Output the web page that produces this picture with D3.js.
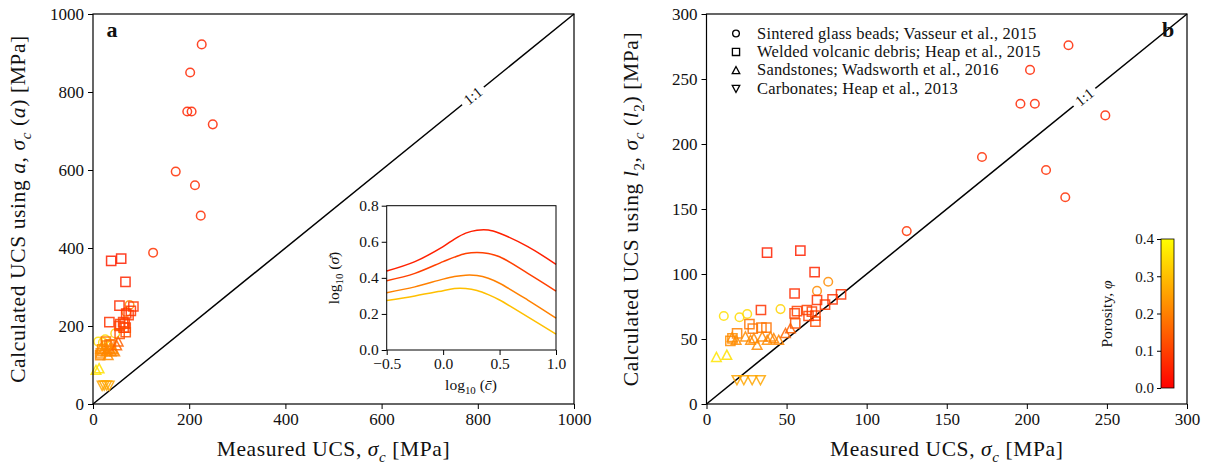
<!DOCTYPE html>
<html><head><meta charset="utf-8">
<script src="https://cdn.jsdelivr.net/npm/d3@7"></script>
<style>body{margin:0;background:#fff} text{font-family:"Liberation Serif","DejaVu Serif",serif;fill:#111}</style>
</head><body><svg id="c" width="1212" height="468"></svg>
<script>
// ---------- data ----------
// Sintered glass beads (circles)
const beadsMeasured = [226, 202, 196, 205, 249, 172, 212, 224, 125, 10.8, 20.6, 25.4, 46.2, 69, 76];
const beadsCalcA    = [922, 850, 750, 750, 717, 596, 561, 483, 388, 160, 158, 166, 181, 236, 254];
const beadsCalcL2   = [276, 257, 231, 231, 222, 190, 180, 159, 133, 67.7, 66.7, 69.2, 73, 87, 94];
const beadsPorosity = [0.06,0.06,0.06,0.06,0.06,0.07,0.07,0.07,0.08,0.35,0.34,0.34,0.33,0.22,0.22];
// Welded volcanic debris (squares)
const debrisMeasured = [37.8, 58.6, 67.5, 55, 34, 84, 78.7, 74, 69, 55, 56.5, 62.7, 65.8, 68, 55.4, 68, 63.7, 26.8, 28.9, 34.3, 37.4, 19.1, 14.9, 16.2];
const debrisCalcA    = [367, 373, 313, 252, 210, 250, 239, 228, 232, 200, 205, 210, 206, 196, 180, 184, 196, 160, 150, 152, 152, 140, 125, 130];
const debrisCalcL2   = [116.4, 118, 101.5, 85, 72.3, 84.4, 80.5, 76.4, 80, 69.7, 71.5, 72.3, 71, 68, 62, 63.3, 67.7, 61.5, 58, 58.7, 58.7, 54.4, 48.5, 50.5];
const debrisPorosity = [0.05, 0.05, 0.06, 0.07, 0.08, 0.08, 0.08, 0.09, 0.08, 0.1, 0.1, 0.1, 0.1, 0.1, 0.12, 0.12, 0.1, 0.18, 0.18, 0.18, 0.18, 0.2, 0.22, 0.22];
// Sandstones (up triangles)
const sandMeasured = [6.2, 12.7, 16, 18.5, 24.3, 27.5, 29.6, 31.6, 34.8, 37.9, 39.9, 42, 45.1, 49.3, 52.4];
const sandCalcA    = [87, 91, 141, 135, 142, 135, 139, 125, 142, 135, 142, 139, 135, 150, 160];
const sandCalcL2   = [36, 37.7, 51.3, 49.2, 51.8, 49.2, 50.5, 45.4, 51.8, 49.2, 51.8, 50.5, 49.2, 54.4, 58.2];
const sandPorosity = [0.36, 0.35, 0.22, 0.22, 0.22, 0.22, 0.21, 0.22, 0.21, 0.22, 0.21, 0.21, 0.21, 0.16, 0.15];
// Carbonates (down triangles)
const carbMeasured = [19, 23.3, 28.5, 33.7];
const carbCalcA    = [47, 48, 48, 47];
const carbCalcL2   = [18.5, 18.5, 18.5, 18.5];
const carbPorosity = [0.26, 0.26, 0.26, 0.26];
// Inset curves
const insetX = [-0.5, -0.25, 0, 0.1, 0.2, 0.3, 0.4, 0.5, 0.75, 1.0];
const insetCurves = [
  {porosity: 0.05, y: [0.438, 0.49, 0.573, 0.615, 0.648, 0.664, 0.665, 0.647, 0.573, 0.475]},
  {porosity: 0.10, y: [0.384, 0.425, 0.49, 0.515, 0.535, 0.541, 0.535, 0.517, 0.425, 0.327]},
  {porosity: 0.20, y: [0.318, 0.35, 0.393, 0.407, 0.415, 0.413, 0.398, 0.37, 0.277, 0.177]},
  {porosity: 0.30, y: [0.275, 0.3, 0.329, 0.341, 0.341, 0.33, 0.307, 0.277, 0.184, 0.088]}
];
const ticksA = [0, 200, 400, 600, 800, 1000];
const ticksB = [0, 50, 100, 150, 200, 250, 300];
const insetXTicks = [-0.5, 0, 0.5, 1.0];
const insetYTicks = [0, 0.2, 0.4, 0.6, 0.8];
const cbarTicks = [0, 0.1, 0.2, 0.3, 0.4];
const legendLabels = ["Sintered glass beads; Vasseur et al., 2015","Welded volcanic debris; Heap et al., 2015","Sandstones; Wadsworth et al., 2016","Carbonates; Heap et al., 2013"];

// ---------- helpers ----------
const svg = d3.select("#c");
const color = p => `rgb(255,${Math.round(255*Math.max(0,Math.min(1,p/0.4)))},0)`;
const shapes = {
  circle: "M4.3,0A4.3,4.3,0,1,1,-4.3,0A4.3,4.3,0,1,1,4.3,0Z",
  square: "M-4.6,-4.6H4.6V4.6H-4.6Z",
  up: "M0,-4.8L-4.8,4.3L4.8,4.3Z",
  down: "M0,4.8L-4.8,-4.3L4.8,-4.3Z"
};
function mtext(g, parts, size, ls){
  const t = g.append("text").style("font-size", size+"px");
  if (ls) t.style("letter-spacing", ls+"px");
  let shift = 0;
  parts.forEach(p=>{
    const ts = t.append("tspan").text(p.t);
    if (p.i) ts.style("font-style","italic");
    const target = p.sub ? size*0.28 : 0;
    if (target !== shift){ ts.attr("dy", target-shift); shift = target; }
    if (p.sub) ts.style("font-size", (size*0.7)+"px");
  });
  return t;
}
const datasets = [
  {m: beadsMeasured, a: beadsCalcA, l: beadsCalcL2, p: beadsPorosity, s: "circle"},
  {m: debrisMeasured, a: debrisCalcA, l: debrisCalcL2, p: debrisPorosity, s: "square"},
  {m: sandMeasured, a: sandCalcA, l: sandCalcL2, p: sandPorosity, s: "up"},
  {m: carbMeasured, a: carbCalcA, l: carbCalcL2, p: carbPorosity, s: "down"}
];

function panel(x, y, ticks, key, letter, letterX, ylabelParts, ylabelX, oneOne){
  const g = svg.append("g");
  const [x0,x1] = x.range(), [y0,y1] = y.range();
  const ax = g.append("g").attr("transform",`translate(0,${y0})`).call(d3.axisBottom(x).tickValues(ticks).tickSize(5).tickPadding(4).tickFormat(d3.format("d")));
  const ay = g.append("g").attr("transform",`translate(${x0},0)`).call(d3.axisLeft(y).tickValues(ticks).tickSize(5).tickPadding(4).tickFormat(d3.format("d")));
  [ax,ay].forEach(a=>{a.select(".domain").remove(); a.selectAll("text").style("font-size","17px").style("font-family","Liberation Serif"); a.selectAll("line").attr("stroke","#000");});
  // 1:1 line
  const dmax = x.domain()[1];
  g.append("line").attr("x1",x(0)).attr("y1",y(0)).attr("x2",x(dmax)).attr("y2",y(dmax)).attr("stroke","#000").attr("stroke-width",1.5);
  const lx = x(oneOne), ly = y(oneOne);
  const ang = -Math.atan((y0-y1)/(x1-x0))*180/Math.PI;
  const lg = g.append("g").attr("transform",`translate(${lx},${ly}) rotate(${ang})`);
  lg.append("rect").attr("x",-14).attr("y",-7).attr("width",28).attr("height",14).attr("fill","#fff");
  lg.append("text").attr("text-anchor","middle").attr("dy","0.33em").style("font-size","15px").text("1:1");
  // points
  datasets.forEach(ds=>{
    g.selectAll(null).data(ds.m.map((m,i)=>({m, c: ds[key][i], p: ds.p[i]}))).join("path")
      .attr("d", shapes[ds.s]).attr("transform", d=>`translate(${x(d.m)},${y(d.c)})`)
      .attr("fill","none").attr("stroke", d=>color(d.p)).attr("stroke-width",1.5).attr("stroke-opacity",0.85);
  });
  // frame
  g.append("rect").attr("x",x0).attr("y",y1).attr("width",x1-x0).attr("height",y0-y1).attr("fill","none").attr("stroke","#000").attr("stroke-width",1.2);
  g.append("text").attr("x",letterX).attr("y",37).attr("text-anchor","middle").style("font-size","22px").style("font-weight","bold").text(letter);
  // labels
  mtext(g, [{t:"Measured UCS, "},{t:"σ",i:1},{t:"c",i:1,sub:1},{t:" [MPa]"}], 21.5, 0.6)
    .attr("x",(x0+x1)/2).attr("y",456).attr("text-anchor","middle");
  mtext(g, ylabelParts, 21.5, 0.6).attr("text-anchor","middle").attr("transform",`translate(${ylabelX},${(y0+y1)/2}) rotate(-90)`);
  return g;
}

const xA = d3.scaleLinear([0,1000],[93,574]), yA = d3.scaleLinear([0,1000],[404,14]);
const xB = d3.scaleLinear([0,300],[706.5,1187]), yB = d3.scaleLinear([0,300],[404,14]);

panel(xA, yA, ticksA, "a", "a", 112,
  [{t:"Calculated UCS using "},{t:"a",i:1},{t:", "},{t:"σ",i:1},{t:"c",i:1,sub:1},{t:" ("},{t:"a",i:1},{t:") [MPa]"}], 25, 790);
panel(xB, yB, ticksB, "l", "b", 1168,
  [{t:"Calculated UCS using "},{t:"l",i:1},{t:"2",sub:1},{t:", "},{t:"σ",i:1},{t:"c",i:1,sub:1},{t:" ("},{t:"l",i:1},{t:"2",sub:1},{t:") [MPa]"}], 638, 236);

// ---------- inset ----------
const ix = d3.scaleLinear([-0.5,1.0],[386.7,556]), iy = d3.scaleLinear([0,0.8],[350,205.7]);
const ig = svg.append("g");
ig.append("rect").attr("x",386.7).attr("y",205.7).attr("width",556-386.7).attr("height",350-205.7).attr("fill","#fff");
const iax = ig.append("g").attr("transform","translate(0,350)").call(d3.axisBottom(ix).tickValues(insetXTicks).tickSize(5).tickPadding(3).tickFormat(d3.format(".1f")));
const iay = ig.append("g").attr("transform","translate(386.7,0)").call(d3.axisLeft(iy).tickValues(insetYTicks).tickSize(5).tickPadding(3).tickFormat(d3.format(".1f")));
[iax,iay].forEach(a=>{a.select(".domain").remove(); a.selectAll("text").style("font-size","15.5px").style("font-family","Liberation Serif");});
const line = d3.line().x((d,i)=>ix(insetX[i])).y(d=>iy(d)).curve(d3.curveCatmullRom);
insetCurves.forEach(c=>{
  ig.append("path").attr("d", line(c.y)).attr("fill","none").attr("stroke", color(c.porosity)).attr("stroke-width",1.5);
});
ig.append("rect").attr("x",386.7).attr("y",205.7).attr("width",556-386.7).attr("height",350-205.7).attr("fill","none").attr("stroke","#000").attr("stroke-width",1);
mtext(ig, [{t:"log"},{t:"10",sub:1},{t:" ("},{t:"c\u0304",i:1},{t:")"}], 15.5).attr("x",471).attr("y",390).attr("text-anchor","middle");
mtext(ig, [{t:"log"},{t:"10",sub:1},{t:" ("},{t:"σ\u0304",i:1},{t:")"}], 15.5).attr("text-anchor","middle").attr("transform","translate(339,278) rotate(-90)");

// ---------- legend ----------
const lgd = svg.append("g");
["circle","square","up","down"].forEach((s,i)=>{
  const yy = 33.5 + i*18.4;
  lgd.append("path").attr("d", shapes[s]).attr("transform",`translate(736,${yy}) scale(0.78)`).attr("fill","none").attr("stroke","#000").attr("stroke-width",1.7);
  lgd.append("text").attr("x",757).attr("y",yy+5).style("font-size","16.5px").style("letter-spacing","0.2px").text(legendLabels[i]);
});

// ---------- colorbar ----------
const cy = d3.scaleLinear([0,0.4],[388,239]);
const defs = svg.append("defs");
const grad = defs.append("linearGradient").attr("id","cb").attr("x1",0).attr("y1",1).attr("x2",0).attr("y2",0);
cbarTicks.forEach(t=>grad.append("stop").attr("offset",t/0.4).attr("stop-color",color(t)));
svg.append("rect").attr("x",1161).attr("y",239).attr("width",13).attr("height",149).attr("fill","url(#cb)").attr("stroke","#000").attr("stroke-width",0.8);
const cax = svg.append("g").attr("transform","translate(1161,0)").call(d3.axisLeft(cy).tickValues(cbarTicks).tickSize(4).tickPadding(3).tickFormat(d3.format(".1f")));
cax.select(".domain").remove(); cax.selectAll("text").style("font-size","15px").style("font-family","Liberation Serif");
mtext(svg, [{t:"Porosity, "},{t:"φ",i:1}], 15.5).attr("text-anchor","middle").attr("transform","translate(1112,314) rotate(-90)");
</script></body></html>
